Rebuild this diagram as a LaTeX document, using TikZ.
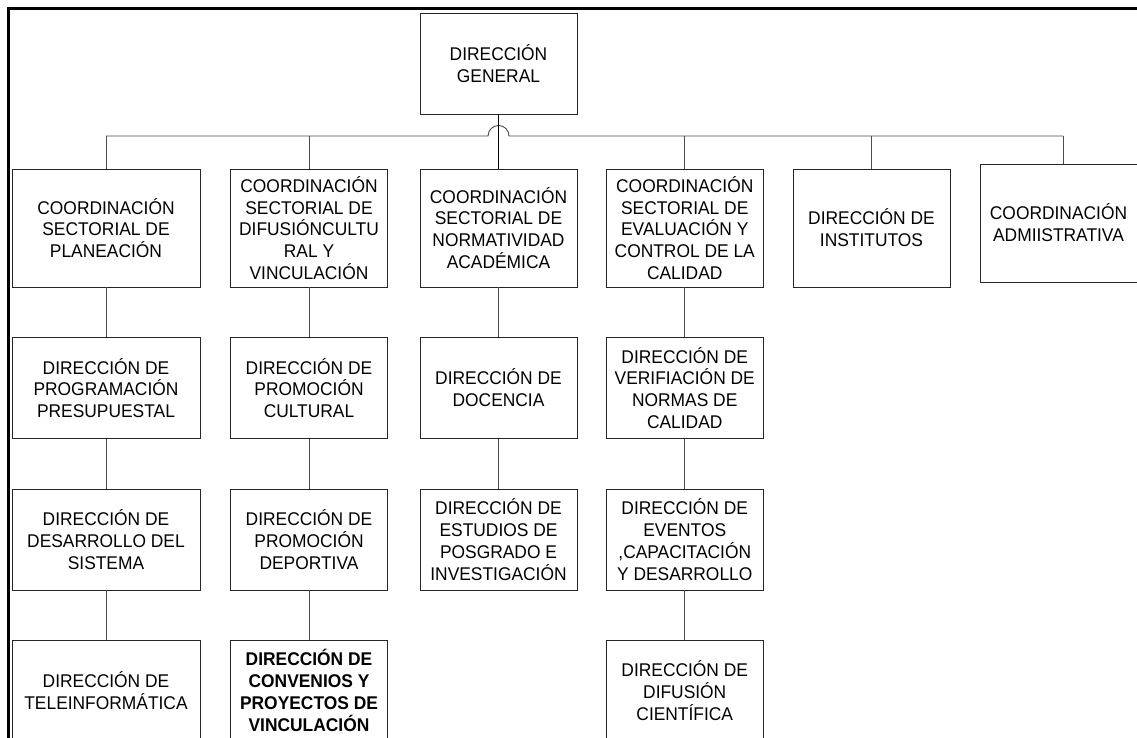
\documentclass[tikz,border=0pt]{standalone}
\usepackage{fontspec}
\setmainfont{Liberation Sans}[FakeStretch=0.945]
\usetikzlibrary{calc}
\newcommand{\orgfont}{\fontsize{18.4}{21.8}\selectfont}
\tikzset{
  unit/.style={draw=black!85, line width=0.9pt, fill=white, align=center,
    inner sep=0pt, font=\orgfont},
  w188/.style={minimum width=188pt},
  w157/.style={minimum width=157pt},
  tall/.style={minimum height=118pt},
  short/.style={minimum height=101pt},
  link/.style={draw=black!70, line width=0.9pt},
  mainlink/.style={draw=black, line width=0.9pt},
  frameline/.style={draw=black, line width=2.5pt}
}
\begin{document}
\begin{tikzpicture}[x=1pt,y=-1pt]
\useasboundingbox (0,0) rectangle (1137,738);
\clip (0,0) rectangle (1137,738);
\fill[white] (0,0) rectangle (1137,738);

% page frame (left and top edges)
\draw[frameline] (8.5,740) -- (8.5,8.5) -- (1137,8.5);

% head of the organisation
\node[unit,w157,short] (dg) at (498.5,63.5) {DIRECCIÓN\\GENERAL};

% first level
\node[unit,w188,tall] (c1) at (106,228) {COORDINACIÓN\\SECTORIAL DE\\PLANEACIÓN};
\node[unit,w157,tall] (c2) at (309,228) {COORDINACIÓN\\SECTORIAL DE\\DIFUSIÓNCULTU\\RAL Y\\VINCULACIÓN};
\node[unit,w157,tall] (c3) at (498.5,228) {COORDINACIÓN\\SECTORIAL DE\\NORMATIVIDAD\\ACADÉMICA};
\node[unit,w157,tall] (c4) at (684.75,228) {COORDINACIÓN\\SECTORIAL DE\\EVALUACIÓN Y\\CONTROL DE LA\\CALIDAD};
\node[unit,w157,tall] (c5) at (871.5,228) {DIRECCIÓN DE\\INSTITUTOS};
\node[unit,w157,tall] (c6) at (1058.5,223) {COORDINACIÓN\\ADMIISTRATIVA};

% second level
\node[unit,w188,short] (p1) at (106,388) {DIRECCIÓN DE\\PROGRAMACIÓN\\PRESUPUESTAL};
\node[unit,w157,short] (p2) at (309,388) {DIRECCIÓN DE\\PROMOCIÓN\\CULTURAL};
\node[unit,w157,short] (p3) at (498.5,388) {DIRECCIÓN DE\\DOCENCIA};
\node[unit,w157,short] (p4) at (684.75,388) {DIRECCIÓN DE\\VERIFIACIÓN DE\\NORMAS DE\\CALIDAD};

% third level
\node[unit,w188,short] (q1) at (106,539.5) {DIRECCIÓN DE\\DESARROLLO DEL\\SISTEMA};
\node[unit,w157,short] (q2) at (309,539.5) {DIRECCIÓN DE\\PROMOCIÓN\\DEPORTIVA};
\node[unit,w157,short] (q3) at (498.5,539.5) {DIRECCIÓN DE\\ESTUDIOS DE\\POSGRADO E\\INVESTIGACIÓN};
\node[unit,w157,short] (q4) at (684.75,539.5) {DIRECCIÓN DE\\EVENTOS\\,CAPACITACIÓN\\Y DESARROLLO};

% fourth level
\node[unit,w188,short] (r1) at (106,690.5) {DIRECCIÓN DE\\TELEINFORMÁTICA};
\node[unit,w157,short,font=\orgfont\bfseries] (r2) at (309,690.5) {DIRECCIÓN DE\\CONVENIOS Y\\PROYECTOS DE\\VINCULACIÓN};
\node[unit,w157,short] (r4) at (684.75,690.5) {DIRECCIÓN DE\\DIFUSIÓN\\CIENTÍFICA};

% horizontal distribution line with a hop over the main vertical
\coordinate (b1) at (106,136);
\coordinate (b2) at (309,136);
\coordinate (b4) at (684.75,136);
\coordinate (b5) at (871.5,136);
\coordinate (b6) at (1063,136);
\coordinate (hopL) at (488,136);
\draw[link] (b1) -- (hopL) arc[start angle=180, end angle=0, radius=10.5pt] -- (b6);

% drops from the distribution line
\draw[link] (b1) -- (c1.north);
\draw[link] (b2) -- (c2.north);
\draw[link] (b4) -- (c4.north);
\draw[link] (b5) -- (c5.north);
\draw[link] (b6) -- (b6 |- c6.north);
\draw[mainlink] (dg.south) -- (c3.north);

% chains below each coordination
\draw[link] (c1.south) -- (p1.north) (p1.south) -- (q1.north) (q1.south) -- (r1.north);
\draw[link] (c2.south) -- (p2.north) (p2.south) -- (q2.north) (q2.south) -- (r2.north);
\draw[link] (c3.south) -- (p3.north) (p3.south) -- (q3.north);
\draw[link] (c4.south) -- (p4.north) (p4.south) -- (q4.north) (q4.south) -- (r4.north);
\end{tikzpicture}
\end{document}
